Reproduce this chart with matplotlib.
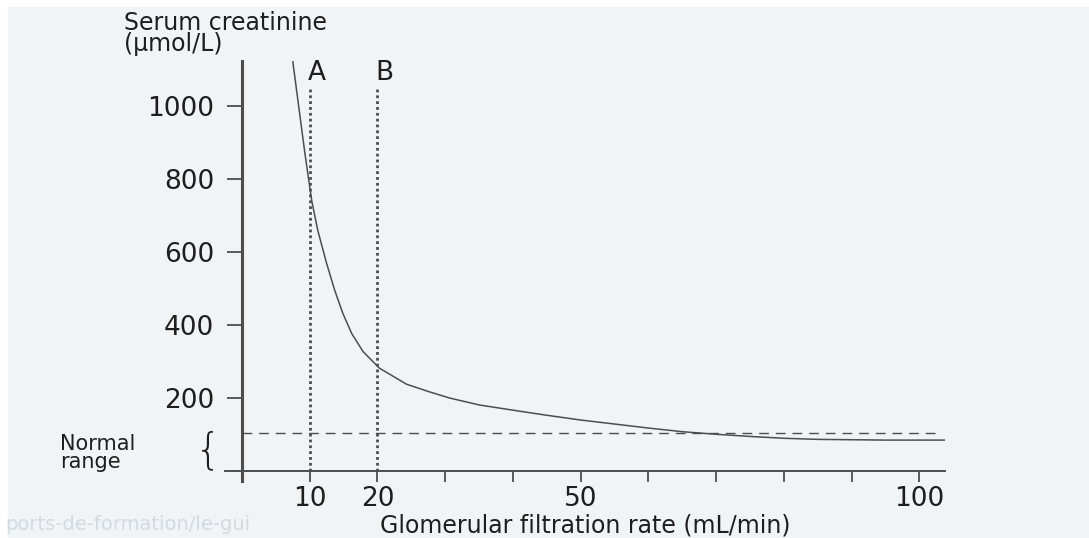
import matplotlib.pyplot as plt
from matplotlib.patches import Rectangle

# curve (GFR in mL/min, creatinine in umol/L)
gfr = [7.5, 8.3, 9.3, 10.3, 11.2, 12.5, 13.7, 14.9, 16.2, 17.9, 20.3, 24.3,
       27.7, 30.7, 35.1, 40, 45, 50, 55, 60, 65, 70, 75, 80, 85, 95, 104]
creat = [1123, 1010, 870, 741, 659, 569, 495, 432, 377, 327, 282, 238,
         217, 200, 181, 167, 153, 140, 129, 118, 108, 101, 95, 90, 87, 85, 85]

normal_upper = 104
marker_gfr = [10, 20]
marker_names = ["A", "B"]

x_ticks = [10, 20, 30, 40, 50, 60, 70, 80, 90, 100]
x_ticklabels = ["10", "20", "", "", "50", "", "", "", "", "100"]
y_ticks = [200, 400, 600, 800, 1000]

ink = "#4d4d4d"
txt = "#1e1e1e"

fig = plt.figure(figsize=(10.89, 5.38), dpi=100)
fig.patch.set_facecolor("white")
fig.add_artist(Rectangle((8 / 1089, 0), 1, 531 / 538, transform=fig.transFigure,
                         color="#f0f4f7", zorder=0))

ax = fig.add_axes([225 / 1089, 57 / 538, 720 / 1089, 420 / 538])
ax.set_facecolor("none")

ax.plot(gfr, creat, color=ink, lw=1.1, zorder=3)

# normal range limit
ax.plot([0, 103], [normal_upper, normal_upper], color=ink, lw=1.0,
        ls=(0, (7, 5)), zorder=2)

# the two GFR markers
for g, name in zip(marker_gfr, marker_names):
    ax.plot([g, g], [0, 1050], color=ink, lw=2.0, ls=(0, (1, 1.1)), zorder=2)
    ax.text(g + 1.1, 1089, name, ha="center", va="center", fontsize=19, color=txt)

ax.set_xlim(-2.5, 103.8)
ax.set_ylim(-27, 1123)

for s in ["top", "right"]:
    ax.spines[s].set_visible(False)
ax.spines["left"].set_position(("data", 0))
ax.spines["bottom"].set_position(("data", 0))
ax.spines["left"].set_linewidth(2.2)
ax.spines["bottom"].set_linewidth(1.4)
ax.spines["left"].set_color(ink)
ax.spines["bottom"].set_color(ink)

ax.set_xticks(x_ticks)
ax.set_xticklabels(x_ticklabels)
ax.set_yticks(y_ticks)
ax.tick_params(axis="x", direction="out", length=8, width=1.3, color=ink,
               pad=3, labelsize=19, labelcolor=txt)
ax.tick_params(axis="y", direction="out", length=11, width=1.3, color=ink,
               pad=9, labelsize=19, labelcolor=txt)

ax.set_xlabel("Glomerular filtration rate (mL/min)", fontsize=17, color=txt,
              labelpad=1)

# y axis title, two lines in the top left corner
fig.text(124 / 1089, 1 - 11 / 538, "Serum creatinine\n(µmol/L)", fontsize=17,
         color=txt, ha="left", va="top", linespacing=0.85)

# normal range note with brace
fig.text(60 / 1089, 1 - 434 / 538, "Normal\nrange", fontsize=15, color=txt,
         ha="left", va="top", linespacing=0.85)
fig.text(208 / 1089, 1 - 451 / 538, "{", fontsize=30, color=txt,
         ha="center", va="center", fontweight="light")

# faint watermark along the bottom edge
fig.text(5 / 1089, 1 - 530 / 538, "ports-de-formation/le-gui", fontsize=14,
         color="#d3dae0", ha="left", va="baseline", zorder=1)

fig.savefig("out.png", dpi=100, facecolor=fig.get_facecolor())
